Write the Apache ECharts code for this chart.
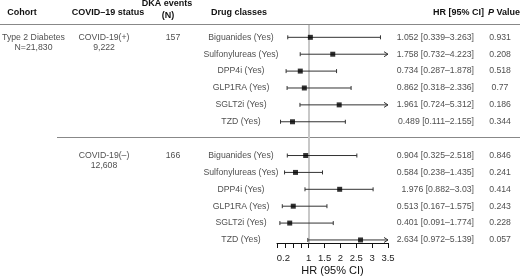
<!DOCTYPE html>
<html>
<head>
<meta charset="utf-8">
<script src="https://cdn.jsdelivr.net/npm/echarts@6/dist/echarts.min.js"></script>
<style>
  html, body { margin: 0; padding: 0; background: #fff; }
  #main { width: 520px; height: 277px; }
</style>
</head>
<body>
<div id="main"></div>
<script>
// drug classes (same for both groups)
const drugs = ['Biguanides (Yes)', 'Sulfonylureas (Yes)', 'DPP4i (Yes)', 'GLP1RA (Yes)', 'SGLT2i (Yes)', 'TZD (Yes)'];

// COVID-19(+) group
const posHR = [1.052, 1.758, 0.734, 0.862, 1.961, 0.489];
const posLo = [0.339, 0.732, 0.287, 0.318, 0.724, 0.111];
const posHi = [3.263, 4.223, 1.878, 2.336, 5.312, 2.155];
const posP = [0.931, 0.208, 0.518, 0.77, 0.186, 0.344];

// COVID-19(-) group
const negHR = [0.904, 0.584, 1.976, 0.513, 0.401, 2.634];
const negLo = [0.325, 0.238, 0.882, 0.167, 0.091, 0.972];
const negHi = [2.518, 1.435, 3.03, 1.575, 1.774, 5.139];
const negP = [0.846, 0.241, 0.414, 0.243, 0.228, 0.057];

const groups = [
  { cohort: 'Type 2 Diabetes\nN=21,830', status: 'COVID-19(+)\n9,222', events: '157', hr: posHR, lo: posLo, hi: posHi, p: posP },
  { cohort: '', status: 'COVID-19(–)\n12,608', events: '166', hr: negHR, lo: negLo, hi: negHi, p: negP }
];

// axis ticks
const tickVals = [0, 0.25, 0.5, 0.75, 1, 1.5, 2, 2.5, 3, 3.5];
const labelVals = [0.2, 1, 1.5, 2, 2.5, 3, 3.5];
const xMax = 3.5;

const FONT = 'Liberation Sans, Arial, Helvetica, sans-serif';
const FS = 8.7;

window.addEventListener('load', function () {
  const chart = echarts.init(document.getElementById('main'));

  let ciData = [];
  let ptData = [];
  let cols = { cohort: [], status: [], events: [], drug: [], hr: [], p: [] };

  groups.forEach(function (g, gi) {
    let base = gi * 7;
    cols.cohort.push([33.5, base, g.cohort]);
    cols.status.push([104, base, g.status]);
    cols.events.push([173, base, g.events]);
    for (let i = 0; i < drugs.length; i++) {
      let row = base + i;
      ciData.push([g.lo[i], g.hi[i], row]);
      ptData.push([g.hr[i], row]);
      cols.drug.push([241, row, drugs[i]]);
      cols.hr.push([474, row, g.hr[i] + ' [' + g.lo[i] + '–' + g.hi[i] + ']']);
      cols.p.push([500, row, String(g.p[i])]);
    }
  });

  function labelStyle(align, offset) {
    return {
      show: true,
      position: 'inside',
      align: align,
      verticalAlign: 'middle',
      offset: offset || [0, 0],
      color: '#222',
      fontFamily: FONT,
      fontSize: FS,
      lineHeight: 10.4,
      formatter: function (p) { return p.data[2]; }
    };
  }

  function textSeries(data, align, offset) {
    return {
      type: 'scatter',
      xAxisIndex: 1,
      yAxisIndex: 1,
      symbolSize: 1,
      itemStyle: { color: 'rgba(0,0,0,0)' },
      silent: true,
      clip: false,
      data: data,
      label: labelStyle(align, offset)
    };
  }

  const yCommon = { type: 'value', inverse: true, min: -0.73, max: 12.18, show: false };

  let series = [
    {
      type: 'custom',
      xAxisIndex: 0,
      yAxisIndex: 0,
      data: ciData,
      clip: false,
      renderItem: function (params, api) {
        let lo = api.value(0), hi = api.value(1), row = api.value(2);
        let p1 = api.coord([lo, row]);
        let p2 = api.coord([Math.min(hi, xMax), row]);
        let st = { stroke: '#333', lineWidth: 1 };
        let kids = [
          { type: 'line', shape: { x1: p1[0], y1: p1[1], x2: p2[0], y2: p2[1] }, style: st },
          { type: 'line', shape: { x1: p1[0], y1: p1[1] - 2, x2: p1[0], y2: p1[1] + 2 }, style: st }
        ];
        if (hi > xMax) {
          kids.push({ type: 'polyline', shape: { points: [[p2[0] - 4, p2[1] - 2.5], [p2[0], p2[1]], [p2[0] - 4, p2[1] + 2.5]] }, style: { stroke: '#333', lineWidth: 1, fill: null } });
        } else {
          kids.push({ type: 'line', shape: { x1: p2[0], y1: p2[1] - 2, x2: p2[0], y2: p2[1] + 2 }, style: st });
        }
        return { type: 'group', children: kids };
      },
      markLine: {
        silent: true,
        symbol: 'none',
        label: { show: false },
        lineStyle: { color: '#c8c8c8', width: 2, type: 'solid' },
        data: [{ xAxis: 1 }],
        z: 1
      },
      z: 3
    },
    {
      type: 'scatter',
      xAxisIndex: 0,
      yAxisIndex: 0,
      symbol: 'rect',
      symbolSize: 5,
      itemStyle: { color: '#000' },
      data: ptData,
      z: 4
    },
    textSeries(cols.cohort, 'center', [0, 5.2]),
    textSeries(cols.status, 'center', [0, 5.2]),
    textSeries(cols.events, 'center'),
    textSeries(cols.drug, 'center'),
    textSeries(cols.hr, 'right'),
    textSeries(cols.p, 'center')
  ];

  const hdr = { fill: '#111', font: 'bold 9px ' + FONT, textVerticalAlign: 'middle' };
  function head(text, x, y, align) {
    return { type: 'text', x: x, y: y, style: Object.assign({ text: text, textAlign: align || 'center' }, hdr) };
  }

  const option = {
    animation: false,
    backgroundColor: '#fff',
    grid: [
      { left: 277, width: 111, top: 25, bottom: 34, containLabel: false, outerBoundsMode: 'none' },
      { left: 0, right: 0, top: 25, bottom: 34, containLabel: false, outerBoundsMode: 'none' }
    ],
    xAxis: [
      {
        type: 'value',
        gridIndex: 0,
        position: 'bottom',
        min: 0,
        max: xMax,
        name: 'HR (95% CI)',
        nameLocation: 'middle',
        nameGap: 22,
        nameMoveOverlap: false,
        nameTextStyle: { fontFamily: FONT, fontSize: 11, color: '#111' },
        axisLine: { onZero: false, lineStyle: { color: '#111', width: 1 } },
        axisTick: { length: 5, customValues: tickVals, lineStyle: { color: '#111' } },
        axisLabel: { customValues: labelVals, margin: 10, fontFamily: FONT, fontSize: 9.5, color: '#222' },
        splitLine: { show: false }
      },
      { type: 'value', gridIndex: 1, min: 0, max: 520, show: false }
    ],
    yAxis: [
      Object.assign({ gridIndex: 0 }, yCommon),
      Object.assign({ gridIndex: 1 }, yCommon)
    ],
    graphic: [
      head('Cohort', 22, 13),
      head('COVID–19 status', 108, 13),
      head('DKA events', 167, 4),
      head('(N)', 168, 16),
      head('Drug classes', 239, 13),
      head('HR [95% CI]', 484, 13, 'right'),
      {
        type: 'text', x: 504, y: 13,
        style: {
          text: '{i|P} Value', textAlign: 'center', textVerticalAlign: 'middle',
          fill: '#111', font: 'bold 9px ' + FONT,
          rich: { i: { fontStyle: 'italic', fontWeight: 'bold', fontSize: 9, fontFamily: FONT, fill: '#111' } }
        }
      },
      { type: 'line', shape: { x1: 0, y1: 24.5, x2: 520, y2: 24.5 }, style: { stroke: '#888', lineWidth: 1 } },
      { type: 'line', shape: { x1: 57, y1: 137.5, x2: 520, y2: 137.5 }, style: { stroke: '#888', lineWidth: 1 } }
    ],
    series: series
  };
  chart.setOption(option);
});
</script>
</body>
</html>
